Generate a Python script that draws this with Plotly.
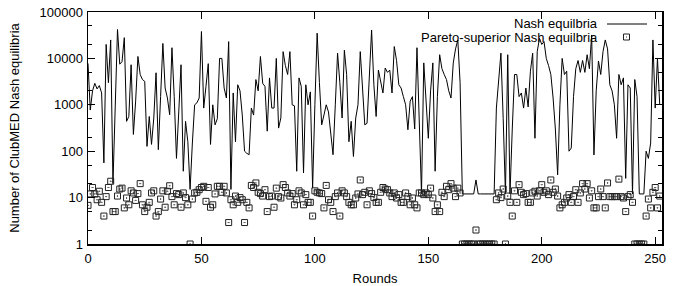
import plotly.graph_objects as go

rounds = list(range(0, 253))

nash = [
    7800, 770, 2000, 2900, 2200, 2600, 1800, 56, 20000, 3000,
    25000, 20, 900, 42000, 7500, 8500, 28000, 440, 560, 7300,
    230, 1200, 11000, 4500, 3500, 3200, 127, 560, 140, 520,
    4900, 108, 1500, 21000, 2300, 1400, 610, 17000, 1500, 70,
    700, 7300, 37, 440, 160, 15, 150, 1000, 1100, 1400,
    38000, 850, 2500, 7700, 140, 1000, 370, 500, 10000, 10000,
    2300, 1400, 23000, 15, 1800, 160, 2700, 2000, 600, 100,
    90, 84, 850, 600, 3500, 2000, 11000, 2900, 2500, 270,
    3800, 850, 850, 10000, 315, 520, 14000, 7000, 4500, 14000,
    1000, 950, 37, 3800, 2500, 34, 2700, 1000, 1900, 16,
    1000, 35000, 3000, 370, 600, 1000, 700, 250, 84, 1000,
    13000, 3000, 520, 15000, 4500, 160, 440, 77, 520, 1000,
    14000, 2300, 370, 400, 4000, 41000, 2700, 560, 5600, 3200,
    1800, 6200, 5000, 5600, 1800, 18000, 9000, 2700, 2300, 1500,
    1000, 290, 1200, 1500, 300, 17000, 500, 12, 8000, 1200,
    190, 2000, 8000, 37, 1500, 12000, 6000, 4500, 3500, 2000,
    1400, 8000, 16000, 25000, 3000, 12, 12, 12, 12, 12,
    12, 24, 12, 12, 12, 12, 12, 12, 12, 12,
    850, 4000, 13000, 500, 12, 12000, 12, 300, 4500, 4500,
    1500, 1800, 850, 2300, 900, 5300, 13000, 190, 14000, 27000,
    20000, 23000, 10000, 7000, 4500, 1400, 300, 31, 1000, 10000,
    4500, 5300, 100, 117, 1500, 6000, 9000, 5000, 9000, 5000,
    12000, 6000, 32000, 83, 2000, 8800, 4500, 14000, 25000, 16000,
    2700, 2000, 1000, 190, 4500, 2700, 3800, 26, 2700, 2300,
    12, 3500, 1500, 12, 12, 12, 100, 70, 150, 25000,
    850, 10000, 1000,
]

pareto = [
    6.8, 12, 16.5, 12, 9, 13.7, 7.9, 4, 10.5, 16.5,
    22.5, 5, 5, 10.8, 15.3, 16, 6, 9.8, 7, 14,
    12.6, 8.7, 12.2, 20, 7, 5, 6.2, 7.9, 12.6, 14,
    4, 5, 9.3, 14, 6.2, 13.7, 18, 10.5, 7, 12.2,
    11.6, 6.2, 12.6, 10, 7, 1, 9.3, 12.6, 13, 14.8,
    16.5, 17.5, 8.3, 16.5, 6.2, 7, 12, 17.5, 17.5, 13,
    17.5, 12.6, 2.9, 9, 7, 10.8, 7.9, 10, 9, 2.9,
    7.9, 6, 18.3, 16.5, 20.7, 13, 12.2, 10.8, 14.8, 5,
    10.5, 10.8, 6.2, 16, 10.5, 9.8, 19, 16.5, 12.6, 10.8,
    12.2, 7, 9, 14, 12.6, 7, 11.6, 7.9, 7.9, 4,
    14, 13, 12.6, 12.2, 6, 18.3, 9, 7.9, 5, 10.5,
    12.6, 4, 14, 12.6, 10.5, 7.9, 7, 7, 9.8, 12,
    24, 11.6, 13, 7, 14, 12.2, 10, 7.9, 7.9, 13,
    16.5, 15.3, 14.8, 12.6, 10.5, 12.6, 9.8, 11.6, 7.9, 7.9,
    12.6, 10.5, 7, 9.8, 7, 6, 12.6, 12.6, 11.6, 12.6,
    11.6, 16, 9.8, 5, 7, 5, 13, 10.5, 17.5, 14.8,
    20, 16, 10.5, 16, 12.6, 1, 1, 1, 1, 1,
    1, 2, 1, 1, 1, 1, 1, 1, 1, 1,
    9, 12.6, 10, 15.3, 1, 10.8, 7.9, 4, 14, 7.9,
    19, 13, 11.6, 12.2, 7.9, 7.9, 12.6, 13.7, 10.8, 14,
    19, 13, 14, 11.6, 24, 13, 15.3, 10.8, 6, 7,
    7.9, 9.8, 11.6, 7.9, 10.5, 14.8, 7.9, 12.6, 20, 15.3,
    20, 9.8, 14, 6, 6, 10.5, 15.3, 10.5, 6, 20.7,
    10.5, 10.5, 10.5, 10.5, 25, 10.5, 9.8, 5, 10.5, 11.6,
    7.9, 1, 1, 1, 1, 1, 4, 9.3, 6, 13,
    16.5, 6, 10.8,
]

x_ticks = [0, 50, 100, 150, 200, 250]
y_ticks = [1, 10, 100, 1000, 10000, 100000]
y_tick_labels = ["1", "10", "100", "1000", "10000", "100000"]
y_minor = [m * d for d in [1, 10, 100, 1000, 10000] for m in (2, 5)]

series_names = ["Nash equilbria", "Pareto-superior Nash equilbria"]

FONT = "Liberation Sans, Arial, Helvetica, sans-serif"

fig = go.Figure()
fig.add_trace(go.Scatter(
    x=rounds, y=nash, mode="lines", name=series_names[0],
    line=dict(color="black", width=1), showlegend=False,
))
fig.add_trace(go.Scatter(
    x=rounds, y=pareto, mode="markers", name=series_names[1],
    marker=dict(symbol="square-open-dot", size=6, color="#222",
                line=dict(width=1, color="#222")),
    showlegend=False,
))

# Full-size figure at the page origin (body margin removed in post_script);
# the plotting area lands at x 88..662, y 12..244.
W, H = 679, 286
PL, PR, PT, PB = 88, 662, 12, 244
ml, mr, mt, mb = PL, W - PR, PT, H - PB

def px(xp):
    return (xp - PL) / (PR - PL)

def py(yp):
    return (PB - yp) / (PB - PT)

# manual legend (text right-aligned, sample to the right, gnuplot style)
fig.add_annotation(x=px(599), y=py(23.5), xref="paper", yref="paper",
                   text=series_names[0], showarrow=False, xanchor="right",
                   yanchor="middle", borderpad=0,
                   font=dict(family=FONT, size=13, color="black"))
fig.add_annotation(x=px(599), y=py(38), xref="paper", yref="paper",
                   text=series_names[1], showarrow=False, xanchor="right",
                   yanchor="middle", borderpad=0,
                   font=dict(family=FONT, size=13, color="black"))
fig.add_shape(type="line", xref="paper", yref="paper",
              x0=px(607), x1=px(647), y0=py(24), y1=py(24),
              line=dict(color="black", width=1))
fig.add_shape(type="rect", xref="paper", yref="paper",
              x0=px(623.5), x1=px(629.5), y0=py(34), y1=py(40),
              line=dict(color="#222", width=1))
fig.add_shape(type="rect", xref="paper", yref="paper",
              x0=px(626), x1=px(627), y0=py(36.5), y1=py(37.5),
              line=dict(color="#444", width=0), fillcolor="#444")

fig.update_layout(
    width=W, height=H,
    margin=dict(l=ml, r=mr, t=mt, b=mb, autoexpand=False),
    paper_bgcolor="white", plot_bgcolor="white",
    font=dict(family=FONT, size=13, color="black"),
    showlegend=False,
)
fig.update_xaxes(
    range=[0, 253], tickmode="array", tickvals=x_ticks,
    ticks="inside", ticklen=7, tickwidth=1, tickcolor="black",
    showline=True, linecolor="black", linewidth=1.5, mirror="ticks",
    showgrid=False, zeroline=False, automargin=False, ticklabelstandoff=2,
    ticklabeloverflow="allow",
    tickfont=dict(family=FONT, size=13, color="black"),
    title=dict(text="Rounds", font=dict(family=FONT, size=13, color="black"), standoff=12),
)
fig.update_yaxes(
    type="log", range=[0, 5], tickmode="array", tickvals=y_ticks, ticktext=y_tick_labels,
    ticks="inside", ticklen=7, tickwidth=1, tickcolor="black",
    minor=dict(ticks="inside", ticklen=4, tickwidth=1, tickcolor="black",
               tickmode="array", tickvals=y_minor, showgrid=False),
    showline=True, linecolor="black", linewidth=1.5, mirror="ticks",
    showgrid=False, zeroline=False, automargin=False, ticklabelstandoff=1,
    ticklabeloverflow="allow",
    tickfont=dict(family=FONT, size=13, color="black"),
    title=dict(text="Number of ClubMED Nash equilibria",
               font=dict(family=FONT, size=13, color="black"), standoff=17),
)

fig.write_html(
    "out.html",
    config={"displayModeBar": False, "staticPlot": True},
    post_script="document.body.style.margin='0';document.body.style.overflow='hidden';",
)
